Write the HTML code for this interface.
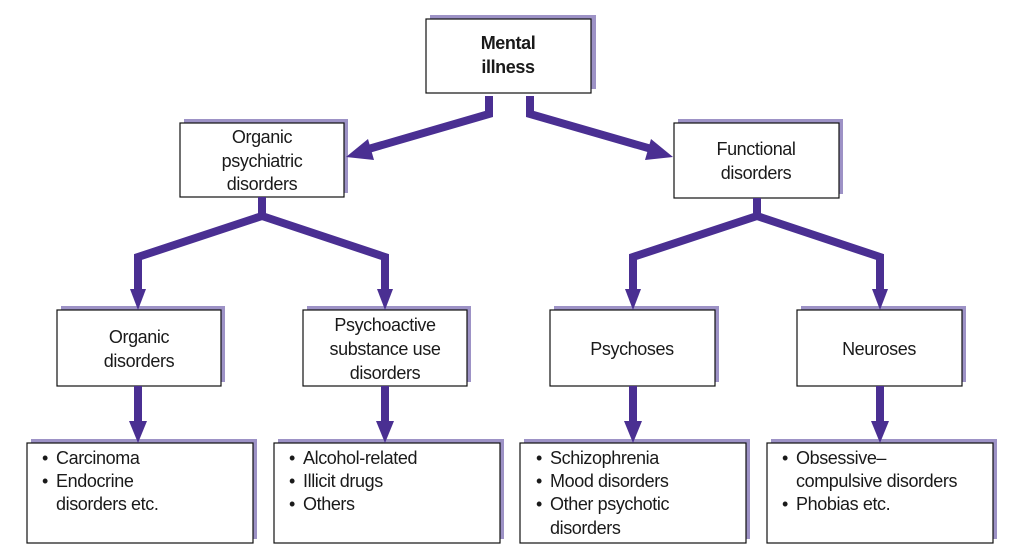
<!DOCTYPE html>
<html><head><meta charset="utf-8"><style>
body{margin:0;background:#fff;}
svg text{font-family:"Liberation Sans",Arial,sans-serif;font-size:18px;fill:#1a1a1a;letter-spacing:-0.4px;}
</style></head><body>
<svg width="1023" height="553" viewBox="0 0 1023 553" xmlns="http://www.w3.org/2000/svg">
<g fill="#9d92c6">
<rect x="430" y="15" width="166" height="74"/>
<rect x="184" y="119" width="164" height="74"/>
<rect x="678" y="119" width="165" height="75"/>
<rect x="61" y="306" width="164" height="76"/>
<rect x="307" y="306" width="164" height="76"/>
<rect x="554" y="306" width="165" height="76"/>
<rect x="801" y="306" width="165" height="76"/>
<rect x="31" y="439" width="226" height="100"/>
<rect x="278" y="439" width="226" height="100"/>
<rect x="524" y="439" width="226" height="100"/>
<rect x="771" y="439" width="226" height="100"/>
</g>
<g fill="#fff" stroke="#111" stroke-width="1.2">
<rect x="426" y="19" width="165" height="74"/>
<rect x="180" y="123" width="164" height="74"/>
<rect x="674" y="123" width="165" height="75"/>
<rect x="57" y="310" width="164" height="76"/>
<rect x="303" y="310" width="164" height="76"/>
<rect x="550" y="310" width="165" height="76"/>
<rect x="797" y="310" width="165" height="76"/>
<rect x="27" y="443" width="226" height="100"/>
<rect x="274" y="443" width="226" height="100"/>
<rect x="520" y="443" width="226" height="100"/>
<rect x="767" y="443" width="226" height="100"/>
</g>
<g stroke="#4a2f92" stroke-width="8" fill="none">
<polyline points="489,96 489,114 365,150"/>
<polyline points="530,96 530,114 655,150"/>
<polyline points="262,197 262,216 138,257 138,292"/>
<polyline points="262,216 385,257 385,292"/>
<polyline points="757,198 757,216 633,257 633,292"/>
<polyline points="757,216 880,257 880,292"/>
<line x1="138" y1="386" x2="138" y2="425"/>
<line x1="385" y1="386" x2="385" y2="425"/>
<line x1="633" y1="386" x2="633" y2="425"/>
<line x1="880" y1="386" x2="880" y2="425"/>
</g>
<g fill="#4a2f92">
<polygon points="346,157 368,139 374,160"/>
<polygon points="673,157 651,139 645,160"/>
<polygon points="130,289 146,289 138,310"/>
<polygon points="377,289 393,289 385,310"/>
<polygon points="625,289 641,289 633,310"/>
<polygon points="872,289 888,289 880,310"/>
<polygon points="129,421 147,421 138,443"/>
<polygon points="376,421 394,421 385,443"/>
<polygon points="624,421 642,421 633,443"/>
<polygon points="871,421 889,421 880,443"/>
</g>
<g text-anchor="middle">
<text x="508" y="49" style="font-weight:bold">Mental</text>
<text x="508" y="73" style="font-weight:bold">illness</text>
<text x="262" y="143">Organic</text>
<text x="262" y="167">psychiatric</text>
<text x="262" y="190">disorders</text>
<text x="756" y="155">Functional</text>
<text x="756" y="179">disorders</text>
<text x="139" y="343">Organic</text>
<text x="139" y="367">disorders</text>
<text x="385" y="331">Psychoactive</text>
<text x="385" y="355">substance use</text>
<text x="385" y="379">disorders</text>
<text x="632" y="355">Psychoses</text>
<text x="879" y="355">Neuroses</text>
</g>
<g>
<text x="42" y="464">•</text><text x="56" y="464">Carcinoma</text>
<text x="42" y="487">•</text><text x="56" y="487">Endocrine</text>
<text x="56" y="510">disorders etc.</text>
<text x="289" y="464">•</text><text x="303" y="464">Alcohol-related</text>
<text x="289" y="487">•</text><text x="303" y="487">Illicit drugs</text>
<text x="289" y="510">•</text><text x="303" y="510">Others</text>
<text x="536" y="464">•</text><text x="550" y="464">Schizophrenia</text>
<text x="536" y="487">•</text><text x="550" y="487">Mood disorders</text>
<text x="536" y="510">•</text><text x="550" y="510">Other psychotic</text>
<text x="550" y="534">disorders</text>
<text x="782" y="464">•</text><text x="796" y="464">Obsessive–</text>
<text x="796" y="487">compulsive disorders</text>
<text x="782" y="510">•</text><text x="796" y="510">Phobias etc.</text>
</g>
</svg>
</body></html>
